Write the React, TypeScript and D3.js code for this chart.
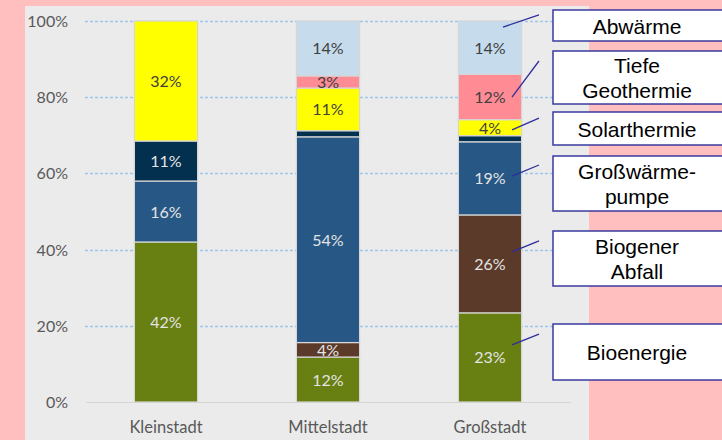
import React, { useEffect, useRef } from 'react';
import * as d3 from 'd3';

// categories (cities) and energy sources, bottom to top
const cities = ['Kleinstadt', 'Mittelstadt', 'Großstadt'];
const sources = ['Bioenergie', 'Biogener Abfall', 'Großwärmepumpe', 'Sonstige', 'Solarthermie', 'Tiefe Geothermie', 'Abwärme'];
const bioenergie = [42, 11.8, 23.4];
const biogenerAbfall = [0, 3.8, 25.7];
const grosswaermepumpe = [16, 54, 19.2];
const sonstige = [10.5, 1.6, 1.6];
const solarthermie = [31.5, 11.2, 4.2];
const tiefeGeothermie = [0, 3.2, 11.9];
const abwaerme = [0, 14.4, 14];
const yTicks = [0, 20, 40, 60, 80, 100];

const colors = ['#687f12', '#5b3a29', '#275885', '#04304f', '#ffff00', '#ff8b95', '#c6dced'];
const labelDark = [false, false, false, false, true, true, true];

// legend boxes on the right (two-line labels split with '\n')
const legendLabels = ['Abwärme', 'Tiefe\nGeothermie', 'Solarthermie', 'Großwärme-\npumpe', 'Biogener\nAbfall', 'Bioenergie'];
const legendTop = [10, 51, 112, 156, 231, 324];
const legendBottom = [41, 104, 145, 211, 286, 380];
// leader line anchors, in % on the Großstadt bar (start) and towards the box (end)
const leaderFrom = [98.4, 80, 71.4, 59.3, 39.4, 15];
const leaderTo = [101.6, 89.5, 74.5, 62.2, 42.3, 17.8];

const chartFont = 'Lato, "Open Sans", sans-serif';

export default function App() {
  const ref = useRef<SVGSVGElement>(null);

  useEffect(() => {
    const W = 722, H = 440;
    const svg = d3.select(ref.current).attr('width', W).attr('height', H);
    svg.selectAll('*').remove();

    svg.append('rect').attr('width', W).attr('height', H).attr('fill', '#ffbfbf');
    svg.append('rect').attr('x', 25).attr('y', 6).attr('width', 564).attr('height', H - 6).attr('fill', '#ebebeb');

    const x = d3.scaleBand().domain(cities).range([85, 571]).paddingInner(0.61).paddingOuter(0.305);
    const y = d3.scaleLinear().domain([0, 100]).range([402, 21]);

    // grid
    svg.selectAll('.grid').data(yTicks.filter(d => d > 0)).join('line')
      .attr('class', 'grid')
      .attr('x1', 85).attr('x2', 571)
      .attr('y1', d => Math.round(y(d)) + 0.5).attr('y2', d => Math.round(y(d)) + 0.5)
      .attr('stroke', '#9ec6ea').attr('stroke-width', 1.3).attr('stroke-dasharray', '3,2');
    svg.append('line').attr('x1', 86).attr('x2', 571).attr('y1', y(0) + 0.5).attr('y2', y(0) + 0.5)
      .attr('stroke', '#d6d6d6').attr('stroke-width', 1);

    // y labels
    svg.selectAll('.ylab').data(yTicks).join('text')
      .attr('class', 'ylab')
      .attr('x', 68).attr('y', d => y(d) + 6)
      .attr('text-anchor', 'end')
      .attr('font-family', chartFont).attr('font-size', 16)
      .attr('fill', '#595959')
      .text(d => d + '%');

    // x labels
    svg.selectAll('.xlab').data(cities).join('text')
      .attr('class', 'xlab')
      .attr('x', d => x(d)! + x.bandwidth() / 2).attr('y', 433)
      .attr('text-anchor', 'middle')
      .attr('font-family', chartFont).attr('font-size', 16.5)
      .attr('fill', '#595959')
      .text(d => d);

    const table = cities.map((c, i) => {
      const row: any = { city: c };
      const vals = [bioenergie, biogenerAbfall, grosswaermepumpe, sonstige, solarthermie, tiefeGeothermie, abwaerme];
      sources.forEach((s, k) => { row[s] = vals[k][i]; });
      return row;
    });
    const stacked = d3.stack().keys(sources)(table);

    const layers = svg.selectAll('.layer').data(stacked).join('g').attr('class', 'layer');
    layers.selectAll('rect').data((d: any, k) => d.map((p: any) => ({ p, k }))).join('rect')
      .filter((d: any) => d.p[1] - d.p[0] > 0)
      .attr('x', (d: any) => x(d.p.data.city)!)
      .attr('width', x.bandwidth())
      .attr('y', (d: any) => y(d.p[1]))
      .attr('height', (d: any) => y(d.p[0]) - y(d.p[1]))
      .attr('fill', (d: any) => colors[d.k])
      .attr('stroke', '#d6d6d6').attr('stroke-width', 1.2);

    layers.selectAll('text').data((d: any, k) => d.map((p: any) => ({ p, k }))).join('text')
      .filter((d: any) => d.p[1] - d.p[0] > 2.5)
      .attr('x', (d: any) => x(d.p.data.city)! + x.bandwidth() / 2)
      .attr('y', (d: any) => y((d.p[0] + d.p[1]) / 2) + 6)
      .attr('text-anchor', 'middle')
      .attr('font-family', chartFont).attr('font-size', 16)
      .attr('fill', (d: any) => labelDark[d.k] ? '#404040' : '#e4e4e4')
      .text((d: any) => Math.round(d.p[1] - d.p[0]) + '%');

    // leader lines
    const xs = x('Großstadt')! + x.bandwidth() / 2;
    svg.selectAll('.leader').data(leaderFrom).join('line')
      .attr('class', 'leader')
      .attr('x1', (d, i) => xs + (i === 0 ? 13 : 22)).attr('y1', d => y(d))
      .attr('x2', 539).attr('y2', (d, i) => y(leaderTo[i]))
      .attr('stroke', '#2e2e9c').attr('stroke-width', 1.3);

    // legend boxes
    const boxes = svg.selectAll('.lbox').data(legendLabels).join('g').attr('class', 'lbox');
    boxes.append('rect')
      .attr('x', 553).attr('y', (d, i) => legendTop[i])
      .attr('width', 180).attr('height', (d, i) => legendBottom[i] - legendTop[i])
      .attr('fill', '#ffffff').attr('stroke', '#3a3a9e').attr('stroke-width', 1.5);
    boxes.each(function (d, i) {
      const lines = d.split('\n');
      const mid = (legendTop[i] + legendBottom[i]) / 2;
      const t = d3.select(this).append('text')
        .attr('text-anchor', 'middle')
        .attr('font-family', '"Liberation Sans", Arial, sans-serif').attr('font-size', 21)
        .attr('fill', '#000');
      lines.forEach((ln, j) => {
        t.append('tspan').attr('x', 637)
          .attr('y', mid + 8 + (j - (lines.length - 1) / 2) * 25)
          .text(ln);
      });
    });
  }, []);

  return <svg ref={ref} style={{ position: 'absolute', left: 0, top: 0 }}></svg>;
}
